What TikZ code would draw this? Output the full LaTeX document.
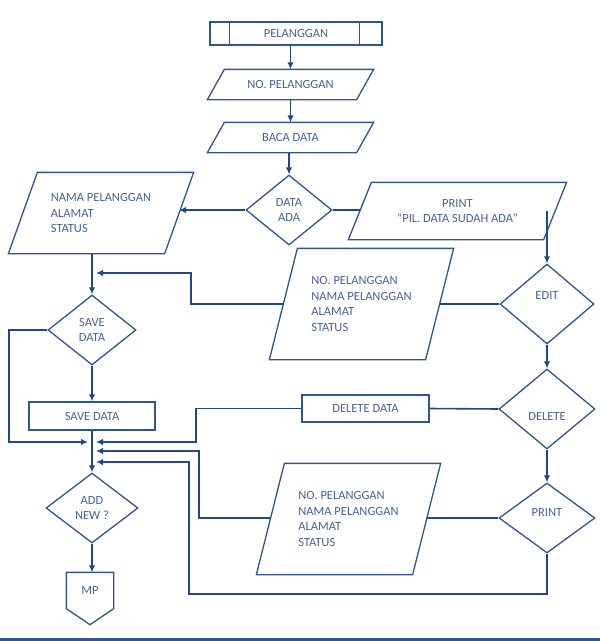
\documentclass[tikz,border=0pt]{standalone}
\usepackage{fontspec}
\setmainfont{Carlito}
\usetikzlibrary{shapes.geometric,arrows.meta}
\definecolor{lc}{RGB}{47,85,151}
\definecolor{ac}{RGB}{33,72,140}
\definecolor{tc}{RGB}{72,98,152}
% parallelogram drawn around a rectangular node: #1 node name, #2 half of the slant
\def\pgram#1#2{\draw[shp] ([xshift=-#2pt]#1.south west) -- ([xshift=-#2pt]#1.south east) -- ([xshift=#2pt]#1.north east) -- ([xshift=#2pt]#1.north west) -- cycle;}
\begin{document}
\begin{tikzpicture}[x=1pt,y=-1pt,
  base/.style={draw=lc, line width=1.3pt, text=tc, font=\fontsize{12.5}{15.5}\selectfont, inner sep=0pt},
  shp/.style={draw=lc, line width=1.3pt},
  boxn/.style={base, rectangle},
  para/.style={base, rectangle, draw=none, align=left},
  dia/.style={base, diamond, align=center, aspect=1},
  conn/.style={draw=ac, line width=1.6pt},
  arr/.style={conn, -{Latex[length=7pt,width=6.5pt]}}
]
\useasboundingbox (0,0) rectangle (600,641);

% nodes
\node[boxn, minimum width=172pt, minimum height=23pt] (pel) at (296,33.5) {PELANGGAN};
\draw[shp] ([xshift=20pt]pel.north west) -- ([xshift=20pt]pel.south west);
\draw[shp] ([xshift=-23pt]pel.north east) -- ([xshift=-23pt]pel.south east);

\node[para, minimum width=148pt, minimum height=29pt, align=center] (nop) at (290.5,84.5) {NO. PELANGGAN};
\pgram{nop}{8.5}
\node[para, minimum width=148pt, minimum height=29pt, align=center] (baca) at (290.5,137.5) {BACA DATA};
\pgram{baca}{8.5}
\node[dia, minimum width=86pt, minimum height=70pt] (dada) at (289,210) {DATA\\ADA};
\node[para, minimum width=155pt, minimum height=80pt] (nama) at (101,213) {NAMA PELANGGAN\\ALAMAT\\STATUS};
\pgram{nama}{14.5}
\node[para, minimum width=194pt, minimum height=56pt, align=center] (pil) at (457.5,211) {PRINT\\"PIL. DATA SUDAH ADA"};
\pgram{pil}{11.5}
\node[dia, minimum width=94pt, minimum height=80pt] (edit) at (547,304) {\raisebox{5pt}[0pt][0pt]{EDIT}};
\node[para, minimum width=155pt, minimum height=110pt] (p2) at (361.5,304) {NO. PELANGGAN\\NAMA PELANGGAN\\ALAMAT\\STATUS};
\pgram{p2}{14}
\node[dia, minimum width=96pt, minimum height=80pt] (del) at (547,409) {\raisebox{-11pt}[0pt][0pt]{DELETE}};
\node[boxn, minimum width=127pt, minimum height=27pt] (deld) at (365.5,408.5) {DELETE DATA};
\node[dia, minimum width=96pt, minimum height=70pt] (prt) at (547,518) {\raisebox{2pt}[0pt][0pt]{PRINT}};
\node[para, minimum width=155pt, minimum height=110pt] (p3) at (348.5,519) {NO. PELANGGAN\\NAMA PELANGGAN\\ALAMAT\\STATUS};
\pgram{p3}{14}
\node[dia, minimum width=88pt, minimum height=70pt] (savd) at (92,330) {SAVE\\DATA};
\node[boxn, minimum width=126pt, minimum height=28pt] (saver) at (92,416) {SAVE DATA};
\node[dia, minimum width=92pt, minimum height=70pt] (add) at (92,508) {ADD\\NEW ?};
\node[base, draw=none, rectangle, minimum width=46pt, minimum height=35pt] (mp) at (90,590.5) {MP};
\draw[shp] (mp.north west) -- (mp.north east) -- (mp.south east) -- ([yshift=-16pt]mp.south) -- (mp.south west) -- cycle;

% merge points on the main line
\coordinate (m1) at (96,273);
\coordinate (m2) at (96,442);
\coordinate (m3) at (96,451);
\coordinate (m4) at (96,462);
\coordinate (m5) at (88,442);

% connectors
\draw[arr] (nop.north |- pel.south) -- (nop.north);
\draw[arr] (nop.south) -- (baca.north);
\draw[arr] (dada.north |- baca.south) -- (dada.north);
\draw[arr] (dada.west) -- (nama.east |- dada.west);
\draw[conn] (dada.east) -- (pil.west |- dada.east);
\draw[arr] (edit.north |- pil.east) -- (edit.north);
\draw[conn] (edit.west) -- (p2.east |- edit.west);
\draw[arr] (p2.west) -- (191,304) |- (m1);
\draw[arr] (edit.south) -- (del.north);
\draw[conn] (del.west) -- (deld.east);
\draw[arr] (deld.west) -- (196,408.5) |- (m2);
\draw[arr] (del.south) -- (prt.north);
\draw[conn] (prt.west) -- (p3.east |- prt.west);
\draw[arr] (p3.west |- prt.west) -- (199,518) |- (m3);
\draw[arr] (prt.south) |- (189,594) |- (m4);
\draw[arr] (savd.north |- nama.south) -- (savd.north);
\draw[arr] (savd.west) -- (9,330) |- (m5);
\draw[arr] (savd.south) -- (saver.north);
\draw[arr] (saver.south) -- (add.north);
\draw[arr] (add.south) -- (add.south |- mp.north);

% bottom rule
\draw[lc, line width=2.5pt] (0,639.5) -- (600,639.5);
\end{tikzpicture}
\end{document}
